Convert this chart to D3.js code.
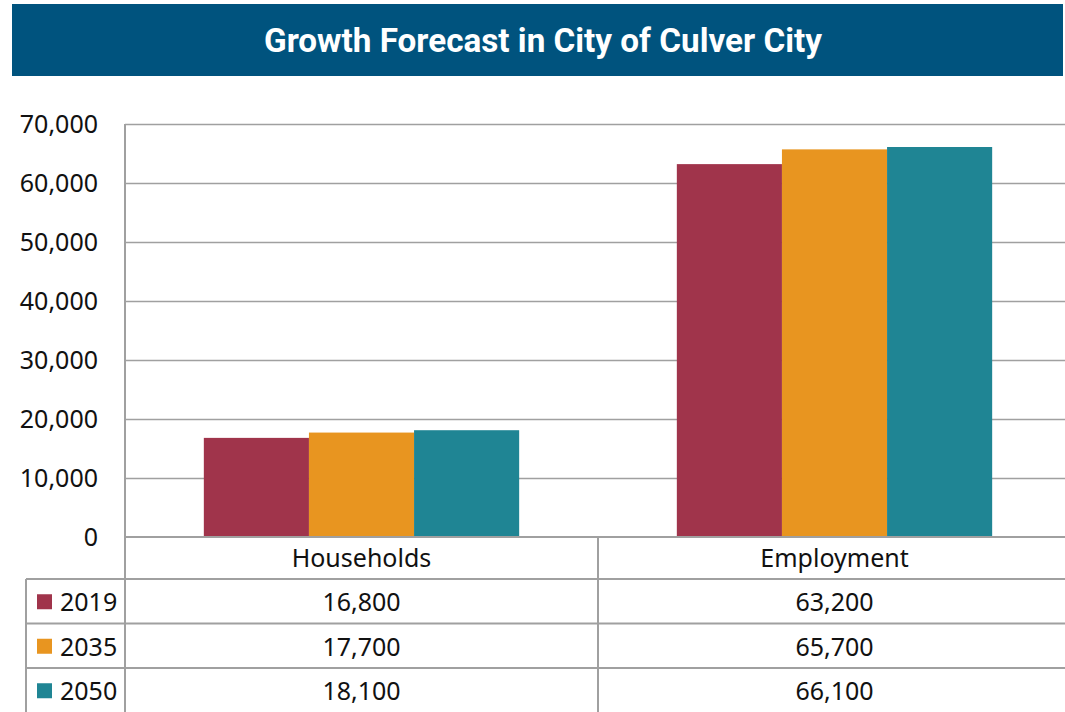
<!DOCTYPE html>
<html>
<head>
<meta charset="utf-8">
<script src="https://cdn.jsdelivr.net/npm/d3@7"></script>
<style>
  body { margin: 0; background: #fff; }
  text { font-family: "Noto Sans", "Open Sans", sans-serif; fill: #111; }
</style>
</head>
<body>
<div id="chart"></div>
<script>
// chart data
const categories = ['Households', 'Employment'];
const years = ['2019', '2035', '2050'];
const households = [16800, 17700, 18100];
const employment = [63200, 65700, 66100];
const yTicks = [0, 10000, 20000, 30000, 40000, 50000, 60000, 70000];
const colors = ['#a0344b', '#e89520', '#1f8594'];
const title = 'Growth Forecast in City of Culver City';

const seriesByCat = { Households: households, Employment: employment };

const W = 1065, H = 712;
const plot = { left: 125, right: 1071, top: 124, bottom: 537 };
const rowH = 44.5;
const headerBottom = 579;
const tableLeft = 26;
const lineCol = '#a0a0a0';
const fs = '25px';

const svg = d3.select('#chart').append('svg')
  .attr('width', W).attr('height', H);

// title band
svg.append('rect')
  .attr('x', 12).attr('y', 4)
  .attr('width', 1051).attr('height', 72)
  .attr('fill', '#00537e');
svg.append('text')
  .attr('x', 543).attr('y', 52)
  .attr('text-anchor', 'middle')
  .attr('textLength', 558)
  .attr('lengthAdjust', 'spacingAndGlyphs')
  .style('font-family', 'Roboto, sans-serif')
  .style('font-weight', 700)
  .style('font-size', '33px')
  .style('fill', '#fff')
  .text(title);

// scales
const y = d3.scaleLinear().domain([0, 70000]).range([plot.bottom, plot.top]);
const x0 = d3.scaleBand().domain(categories).range([plot.left, plot.right]);
const x1 = d3.scaleBand().domain(years)
  .range([0, x0.bandwidth()])
  .paddingOuter(0.75).paddingInner(0);

// gridlines
svg.append('g').selectAll('line')
  .data(yTicks.slice(1))
  .join('line')
  .attr('x1', plot.left).attr('x2', plot.right)
  .attr('y1', d => Math.round(y(d)) + 0.5).attr('y2', d => Math.round(y(d)) + 0.5)
  .attr('stroke', lineCol).attr('stroke-width', 1.3);

// y axis labels
svg.append('g').selectAll('text')
  .data(yTicks)
  .join('text')
  .attr('x', 98).attr('y', d => y(d) + 9)
  .attr('text-anchor', 'end')
  .style('font-size', fs)
  .text(d => d3.format(',')(d));

// bars
const groups = svg.append('g').selectAll('g')
  .data(categories)
  .join('g')
  .attr('transform', d => `translate(${x0(d)},0)`);
groups.selectAll('rect')
  .data(c => seriesByCat[c].map((v, i) => ({ year: years[i], value: v, i })))
  .join('rect')
  .attr('x', d => x1(d.year))
  .attr('y', d => y(d.value))
  .attr('width', x1.bandwidth())
  .attr('height', d => y(0) - y(d.value))
  .attr('fill', d => colors[d.i]);

// data table
const tbl = svg.append('g').attr('stroke', lineCol).attr('stroke-width', 2);
// axis base line
tbl.append('line')
  .attr('x1', plot.left).attr('x2', plot.right)
  .attr('y1', plot.bottom).attr('y2', plot.bottom);
// row lines
const rowLines = d3.range(years.length).map(i => headerBottom + i * rowH);
tbl.selectAll('.row')
  .data(rowLines)
  .join('line')
  .attr('x1', tableLeft).attr('x2', plot.right)
  .attr('y1', d => d).attr('y2', d => d);
// vertical lines
tbl.append('line')
  .attr('x1', plot.left).attr('x2', plot.left)
  .attr('y1', plot.top).attr('y2', H);
tbl.append('line')
  .attr('x1', x0('Employment')).attr('x2', x0('Employment'))
  .attr('y1', plot.bottom).attr('y2', H);
tbl.append('line')
  .attr('x1', tableLeft).attr('x2', tableLeft)
  .attr('y1', headerBottom).attr('y2', H);

// header labels
svg.append('g').selectAll('text')
  .data(categories)
  .join('text')
  .attr('x', d => x0(d) + x0.bandwidth() / 2)
  .attr('y', (plot.bottom + headerBottom) / 2 + 9)
  .attr('text-anchor', 'middle')
  .style('font-size', fs)
  .text(d => d);

// legend rows
const rows = svg.append('g').selectAll('g')
  .data(years)
  .join('g')
  .attr('transform', (d, i) => `translate(0,${headerBottom + i * rowH + rowH / 2})`);
rows.append('rect')
  .attr('x', 37).attr('y', -7)
  .attr('width', 15).attr('height', 15)
  .attr('fill', (d, i) => colors[i]);
rows.append('text')
  .attr('x', 60).attr('y', 10)
  .style('font-size', fs)
  .text(d => d);
rows.selectAll('.val')
  .data((d, i) => categories.map(c => ({ c, v: seriesByCat[c][i] })))
  .join('text')
  .attr('class', 'val')
  .attr('x', d => x0(d.c) + x0.bandwidth() / 2)
  .attr('y', 10)
  .attr('text-anchor', 'middle')
  .style('font-size', fs)
  .text(d => d3.format(',')(d.v));
</script>
</body>
</html>
